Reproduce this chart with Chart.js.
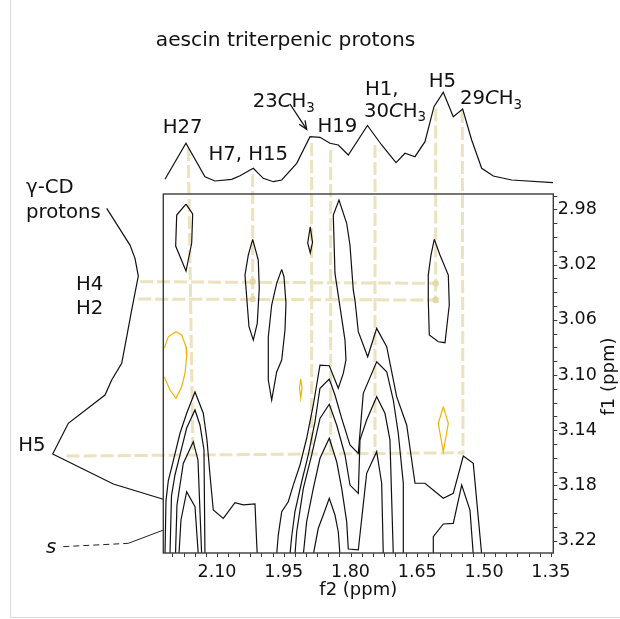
<!DOCTYPE html>
<html><head><meta charset="utf-8">
<script src="https://cdn.jsdelivr.net/npm/chart.js@4/dist/chart.umd.min.js"></script>
<style>html,body{margin:0;padding:0;background:#fff;}canvas{display:block;}</style>
</head><body>
<canvas id="c" width="620" height="619"></canvas>
<script>
// ---------------- data (ppm / relative intensity) ----------------
const xTickLabels = [2.10, 1.95, 1.80, 1.65, 1.50, 1.35];
const yTickLabels = [2.98, 3.02, 3.06, 3.10, 3.14, 3.18, 3.22];

// 1D projection along f2 (top trace)
const topF2  = [2.2168,2.1697,2.127,2.1045,2.067,2.0483,2.0184,1.996,1.9735,1.9546,1.9209,1.891,1.8686,1.8461,1.8275,1.805,1.7619,1.73,1.6978,1.6776,1.6552,1.6327,1.6125,1.5916,1.5691,1.548,1.5278,1.5053,1.4792,1.4379,1.3451];
const topInt = [0.107,0.467,0.133,0.09,0.107,0.143,0.217,0.117,0.083,0.10,0.267,0.533,0.527,0.467,0.45,0.35,0.645,0.45,0.273,0.367,0.333,0.483,0.833,0.977,0.733,0.81,0.50,0.217,0.14,0.10,0.073];

// 1D projection along f1 (left trace)
const leftF1  = [2.9793,3.0059,3.0155,3.0283,3.0529,3.0723,3.0915,3.1036,3.1145,3.135,3.1572,3.1789,3.19];
const leftInt = [0.566,0.333,0.283,0.25,0.316,0.366,0.416,0.516,0.583,0.95,1.106,0.50,0.0];
const sLeaderDash  = [[1.0,3.2243],[0.35,3.2219]];
const sLeaderSolid = [[0.35,3.2219],[0.0,3.2123]];

// contours [f2, f1]
const contH27   = [[2.1696,2.9762],[2.1546,2.9834],[2.1568,3.0044],[2.1696,3.0247],[2.1928,3.0066],[2.1905,2.9841],[2.1696,2.9762]];
const contH7    = [[2.0198,3.0017],[2.0072,3.0167],[2.005,3.0372],[2.0095,3.0626],[2.0184,3.0747],[2.0281,3.065],[2.0371,3.0276],[2.0297,3.0131],[2.0198,3.0017]];
const contD     = [[1.9546,3.0235],[1.9495,3.0288],[1.945,3.0481],[1.9472,3.0674],[1.9546,3.0892],[1.9659,3.0978],[1.9771,3.1181],[1.9847,3.1036],[1.9847,3.0725],[1.9771,3.0493],[1.9659,3.0336],[1.9546,3.0235]];
const cont23    = [[1.8904,2.9926],[1.8854,3.004],[1.8904,3.0116],[1.8962,3.0044],[1.8904,2.9926]];
const contH5    = [[1.6118,3.0017],[1.599,3.0131],[1.5803,3.0276],[1.5781,3.0493],[1.5832,3.0638],[1.5877,3.0766],[1.6028,3.0759],[1.623,3.071],[1.6253,3.0457],[1.6253,3.0276],[1.6192,3.0131],[1.6118,3.0017]];
const lev1 = [[1.9659,3.23],[1.9623,3.2159],[1.9546,3.199],[1.9398,3.1918],[1.9286,3.1797],[1.9135,3.1652],[1.8985,3.1458],[1.8836,3.1217],[1.8686,3.0928],[1.8477,3.0933],[1.8275,3.1096],[1.8162,3.0988],[1.8102,3.0891],[1.8124,3.0747],[1.8237,3.0505],[1.8349,3.0264],[1.8387,2.9841],[1.8259,2.9733],[1.8086,2.9901],[1.8012,3.0059],[1.7938,3.0384],[1.79,3.0457],[1.7825,3.0686],[1.7614,3.0868],[1.7412,3.0662],[1.7187,3.0795],[1.6963,3.1157],[1.6738,3.1362],[1.6551,3.1784],[1.6327,3.1784],[1.5916,3.1893],[1.5691,3.1857],[1.5466,3.1587],[1.5242,3.164],[1.5053,3.23]];
const lev2 = [[1.936,3.23],[1.9322,3.2171],[1.9248,3.199],[1.9097,3.1773],[1.8949,3.1579],[1.8798,3.1338],[1.8686,3.1096],[1.8477,3.1029],[1.8349,3.1145],[1.8198,3.1314],[1.8012,3.1507],[1.7825,3.1567],[1.7713,3.1133],[1.7412,3.0904],[1.7187,3.0976],[1.7039,3.1181],[1.6927,3.1422],[1.6814,3.1784],[1.6814,3.23]];
const lev3 = [[1.9248,3.23],[1.9209,3.2135],[1.906,3.1821],[1.8872,3.1579],[1.8686,3.1314],[1.8477,3.1212],[1.8311,3.1362],[1.8124,3.1579],[1.8012,3.1797],[1.7825,3.1857],[1.7787,3.147],[1.7637,3.1326],[1.7412,3.1157],[1.7226,3.1277],[1.7114,3.147],[1.7039,3.23]];
const lev4 = [[1.906,3.23],[1.8985,3.2062],[1.8836,3.1821],[1.8686,3.1603],[1.8477,3.1458],[1.8311,3.1628],[1.8198,3.1821],[1.8086,3.2062],[1.805,3.226],[1.7825,3.2267],[1.7637,3.1712],[1.7412,3.1555],[1.73,3.1784],[1.7264,3.23]];
const lev5 = [[1.8836,3.23],[1.8724,3.211],[1.8612,3.2014],[1.8477,3.1893],[1.8349,3.2014],[1.8275,3.2135],[1.8237,3.23]];
const cont29 = [[1.614,3.23],[1.614,3.2171],[1.5916,3.2079],[1.5691,3.2074],[1.5502,3.1797],[1.5316,3.1978],[1.5242,3.23]];
const contK1 = [[2.2168,3.23],[2.2146,3.1911],[2.2094,3.1767],[2.1982,3.1622],[2.1831,3.1422],[2.1681,3.1277],[2.1494,3.1123],[2.1308,3.1277],[2.1225,3.147],[2.1157,3.1724],[2.1083,3.1978],[2.0858,3.2038],[2.0596,3.1925],[2.0409,3.1941],[2.0146,3.1934],[2.0108,3.2219],[2.0095,3.23]];
const contK2 = [[2.2056,3.23],[2.2022,3.1875],[2.1944,3.1724],[2.1831,3.1579],[2.1681,3.1384],[2.1494,3.1253],[2.1382,3.1362],[2.1292,3.1543],[2.127,3.23]];
const contK3 = [[2.1932,3.23],[2.1899,3.1941],[2.1757,3.164],[2.1533,3.1483],[2.1427,3.1616],[2.1344,3.23]];
const contK4 = [[2.1854,3.23],[2.1809,3.205],[2.1681,3.1845],[2.1494,3.1954],[2.142,3.23]];
// negative (yellow) contours
const negLeft  = [[2.2184,3.0805],[2.2094,3.0723],[2.1921,3.0686],[2.1793,3.071],[2.1696,3.0795],[2.1681,3.0868],[2.1719,3.0988],[2.1793,3.1085],[2.1921,3.1169],[2.2056,3.1109],[2.2184,3.1015]];
const negMid   = [[1.9119,3.1029],[1.909,3.1094],[1.9119,3.1166],[1.9146,3.1094],[1.9119,3.1029]];
const negRight = [[1.5916,3.123],[1.5803,3.135],[1.5916,3.1556],[1.6028,3.135],[1.5916,3.123]];

// correlation guides [f2, f1]
const guideH27 = [[2.1645,2.9356],[2.1539,3.1579]];
const guideH7  = [[2.0198,2.9544],[2.0198,3.045]];
const guide23  = [[1.8872,2.932],[1.8872,3.1579]];
const guideH19 = [[1.8446,2.937],[1.8446,3.1579]];
const guideH1  = [[1.745,2.9334],[1.745,3.1579]];
const guideH5t = [[1.6086,2.9069],[1.6086,3.0457]];
const guide29  = [[1.5489,2.9081],[1.5473,3.1579]];
const guideH4  = [[2.273,3.0324],[1.6086,3.0336]];
const guideH2  = [[2.2768,3.045],[1.6086,3.0457]];
const guideH5l = [[2.4377,3.1587],[1.5466,3.1563]];
const guideDots = [[2.0198,3.0324],[2.0198,3.045],[1.6086,3.0336],[1.6086,3.0457]];

// ---------------- chart ----------------
const FONT = '"DejaVu Sans", Verdana, sans-serif';
const INK = '#111';
const GUIDE = '#ece2bd';
const NEG = '#f0b400';
const pts = a => a.map(p => ({x: p[0], y: p[1]}));

function line(arr, color, extra) {
  return Object.assign({data: pts(arr), borderColor: color, borderWidth: 1.2, showLine: true,
    pointRadius: 0, fill: false, tension: 0, order: 1, xAxisID: 'x', yAxisID: 'y'}, extra || {});
}
function guide(arr) {
  return line(arr, GUIDE, {borderWidth: 3, borderDash: [13, 4], order: 10, clip: false});
}

const datasets = [
  guide(guideH27), guide(guideH7), guide(guide23), guide(guideH19), guide(guideH1),
  guide(guideH5t), guide(guide29), guide(guideH4), guide(guideH2), guide(guideH5l),
  {data: pts(guideDots), showLine: false, pointRadius: 3.2, pointBackgroundColor: '#e4d8a8',
   pointBorderWidth: 0, order: 9, clip: false, xAxisID: 'x', yAxisID: 'y'},
  line(contH27, INK), line(contH7, INK), line(contD, INK), line(cont23, INK), line(contH5, INK),
  line(lev1, INK), line(lev2, INK), line(lev3, INK), line(lev4, INK), line(lev5, INK),
  line(cont29, INK), line(contK1, INK), line(contK2, INK), line(contK3, INK), line(contK4, INK),
  line(negLeft, NEG), line(negMid, NEG), line(negRight, NEG),
  {data: topF2.map((v, i) => ({x: v, y: topInt[i]})), borderColor: INK, borderWidth: 1.2, showLine: true,
   pointRadius: 0, tension: 0, clip: false, order: 2, xAxisID: 'x', yAxisID: 'yTop'},
  {data: leftF1.map((v, i) => ({x: leftInt[i], y: v})), borderColor: INK, borderWidth: 1.2, showLine: true,
   pointRadius: 0, tension: 0, clip: false, order: 2, xAxisID: 'xLeft', yAxisID: 'y'},
  line(sLeaderDash, '#222', {xAxisID: 'xLeft', borderWidth: 1, borderDash: [6, 4], clip: false}),
  line(sLeaderSolid, '#222', {xAxisID: 'xLeft', borderWidth: 1, clip: false})
];

const xTicksAll = [];
for (let k = 0; ; k++) { const v = Math.round((1.35 + k * 0.025) * 1000) / 1000; if (v > 2.2206) break; xTicksAll.push(v); }
const yTicksAll = [];
for (let k = 0; ; k++) { const v = Math.round((2.97 + k * 0.01) * 1000) / 1000; if (v > 3.2289) break; yTicksAll.push(v); }
const isLabel = (v, arr) => arr.some(t => Math.abs(t - v) < 1e-6);

// annotations (anchored in data space: x on f2 scale / y on top-trace intensity, etc.)
const topNotes = [
  {parts: [['H27', '']], f2: 2.1771, v: 0.573, align: 'center'},
  {parts: [['H7, H15', '']], f2: 2.0297, v: 0.30, align: 'center'},
  {parts: [['23', ''], ['C', 'i'], ['H', ''], ['3', 'sub']], f2: 2.0198, v: 0.827, align: 'left'},
  {parts: [['H19', '']], f2: 1.8293, v: 0.583, align: 'center'},
  {parts: [['H1,', '']], f2: 1.7675, v: 0.95, align: 'left'},
  {parts: [['30', ''], ['C', 'i'], ['H', ''], ['3', 'sub']], f2: 1.7697, v: 0.733, align: 'left'},
  {parts: [['H5', '']], f2: 1.5934, v: 1.027, align: 'center'},
  {parts: [['29', ''], ['C', 'i'], ['H', ''], ['3', 'sub']], f2: 1.5541, v: 0.86, align: 'left'}
];
const leftNotes = [
  {parts: [['γ-CD', '']], v: 1.373, f1: 2.9684},
  {parts: [['protons', '']], v: 1.373, f1: 2.9865},
  {parts: [['H4', '']], v: 0.873, f1: 3.0384},
  {parts: [['H2', '']], v: 0.873, f1: 3.056},
  {parts: [['H5', '']], v: 1.45, f1: 3.155},
  {parts: [['s', 'i']], v: 1.173, f1: 3.2287}
];
const arrow23 = {from: [1.936, 0.86], to: [1.8985, 0.607]};

function drawRich(ctx, parts, x, y, size, align) {
  const fontFor = s => (s === 'i' ? 'italic ' : '') + (s === 'sub' ? (size * 0.68).toFixed(1) : size) + 'px ' + FONT;
  let w = 0;
  parts.forEach(([t, s]) => { ctx.font = fontFor(s); w += ctx.measureText(t).width; });
  let cx = align === 'center' ? x - w / 2 : x;
  ctx.textAlign = 'left';
  ctx.textBaseline = 'alphabetic';
  parts.forEach(([t, s]) => {
    ctx.font = fontFor(s);
    ctx.fillText(t, cx, s === 'sub' ? y + size * 0.24 : y);
    cx += ctx.measureText(t).width;
  });
}

const decor = {
  id: 'decor',
  beforeDraw(chart) {
    const ctx = chart.ctx;
    ctx.save();
    ctx.fillStyle = '#fff';
    ctx.fillRect(0, 0, chart.width, chart.height);
    ctx.strokeStyle = '#d9d9d9'; ctx.lineWidth = 1;
    ctx.beginPath(); ctx.moveTo(10.5, 0); ctx.lineTo(10.5, 617.5); ctx.lineTo(620, 617.5); ctx.stroke();
    ctx.restore();
  },
  afterDraw(chart) {
    const ctx = chart.ctx, ca = chart.chartArea;
    const sx = chart.scales.x, sy = chart.scales.y, st = chart.scales.yTop, sl = chart.scales.xLeft;
    ctx.save();
    // plot frame
    ctx.strokeStyle = '#3c3c3c'; ctx.lineWidth = 1.4;
    ctx.strokeRect(ca.left, ca.top, ca.right - ca.left, ca.bottom - ca.top);
    // tick marks
    ctx.lineWidth = 1;
    ctx.beginPath();
    xTicksAll.forEach(v => { const p = Math.round(sx.getPixelForValue(v)) + 0.5; ctx.moveTo(p, ca.bottom); ctx.lineTo(p, ca.bottom + 4); });
    yTicksAll.forEach(v => { const p = Math.round(sy.getPixelForValue(v)) + 0.5; ctx.moveTo(ca.right, p); ctx.lineTo(ca.right + 4, p); });
    ctx.stroke();
    // axis titles
    ctx.fillStyle = INK;
    ctx.font = '18px ' + FONT;
    ctx.textAlign = 'center'; ctx.textBaseline = 'alphabetic';
    ctx.fillText('f2 (ppm)', (ca.left + ca.right) / 2, 595);
    ctx.save();
    ctx.translate(609, (ca.top + ca.bottom) / 2 + 3);
    ctx.rotate(-Math.PI / 2);
    ctx.textBaseline = 'middle';
    ctx.fillText('f1 (ppm)', 0, 0);
    ctx.restore();
    // title
    ctx.font = '20.2px ' + FONT;
    ctx.textAlign = 'center'; ctx.textBaseline = 'alphabetic';
    ctx.fillText('aescin triterpenic protons', sx.getPixelForValue(1.9461), st.getPixelForValue(1.44));
    // peak labels
    topNotes.forEach(n => drawRich(ctx, n.parts, sx.getPixelForValue(n.f2), st.getPixelForValue(n.v), 19.7, n.align));
    leftNotes.forEach(n => drawRich(ctx, n.parts, sl.getPixelForValue(n.v), sy.getPixelForValue(n.f1), 19.7, 'left'));
    // arrow
    const ax1 = sx.getPixelForValue(arrow23.from[0]), ay1 = st.getPixelForValue(arrow23.from[1]);
    const ax2 = sx.getPixelForValue(arrow23.to[0]), ay2 = st.getPixelForValue(arrow23.to[1]);
    const ang = Math.atan2(ay2 - ay1, ax2 - ax1);
    ctx.strokeStyle = INK; ctx.lineWidth = 1.3;
    ctx.beginPath(); ctx.moveTo(ax1, ay1); ctx.lineTo(ax2, ay2); ctx.stroke();
    ctx.beginPath();
    ctx.moveTo(ax2 - 9 * Math.cos(ang - 0.4), ay2 - 9 * Math.sin(ang - 0.4));
    ctx.lineTo(ax2, ay2);
    ctx.lineTo(ax2 - 9 * Math.cos(ang + 0.4), ay2 - 9 * Math.sin(ang + 0.4));
    ctx.stroke();
    ctx.restore();
  }
};

new Chart(document.getElementById('c'), {
  type: 'scatter',
  data: {datasets},
  options: {
    responsive: false, animation: false, devicePixelRatio: 1,
    layout: {padding: {left: 163.3, top: 194, right: 0, bottom: 0}},
    plugins: {legend: {display: false}, tooltip: {enabled: false}},
    scales: {
      x: {
        type: 'linear', position: 'bottom', reverse: true, min: 1.3444, max: 2.2206,
        afterBuildTicks: s => { s.ticks = xTicksAll.map(v => ({value: v})); },
        afterFit: s => { s.height = 66; },
        ticks: {autoSkip: false, maxRotation: 0, minRotation: 0, padding: 9, color: INK,
          font: {family: FONT, size: 17.5},
          callback: v => isLabel(v, xTickLabels) ? v.toFixed(2) : ''},
        grid: {display: false, drawTicks: false}, border: {display: false}
      },
      y: {
        type: 'linear', position: 'right', reverse: true, min: 2.9689, max: 3.2289,
        afterBuildTicks: s => { s.ticks = yTicksAll.map(v => ({value: v})); },
        afterFit: s => { s.width = 66.7; },
        ticks: {autoSkip: false, padding: 4.5, color: INK, font: {family: FONT, size: 17.5},
          callback: v => isLabel(v, yTickLabels) ? v.toFixed(2) : ''},
        grid: {display: false, drawTicks: false}, border: {display: false}
      },
      yTop: {type: 'linear', display: false, position: 'left', min: -3.63, max: -0.04},
      xLeft: {type: 'linear', display: false, position: 'bottom', reverse: true, min: -3.9, max: 0}
    }
  },
  plugins: [decor]
});
</script>
</body></html>
